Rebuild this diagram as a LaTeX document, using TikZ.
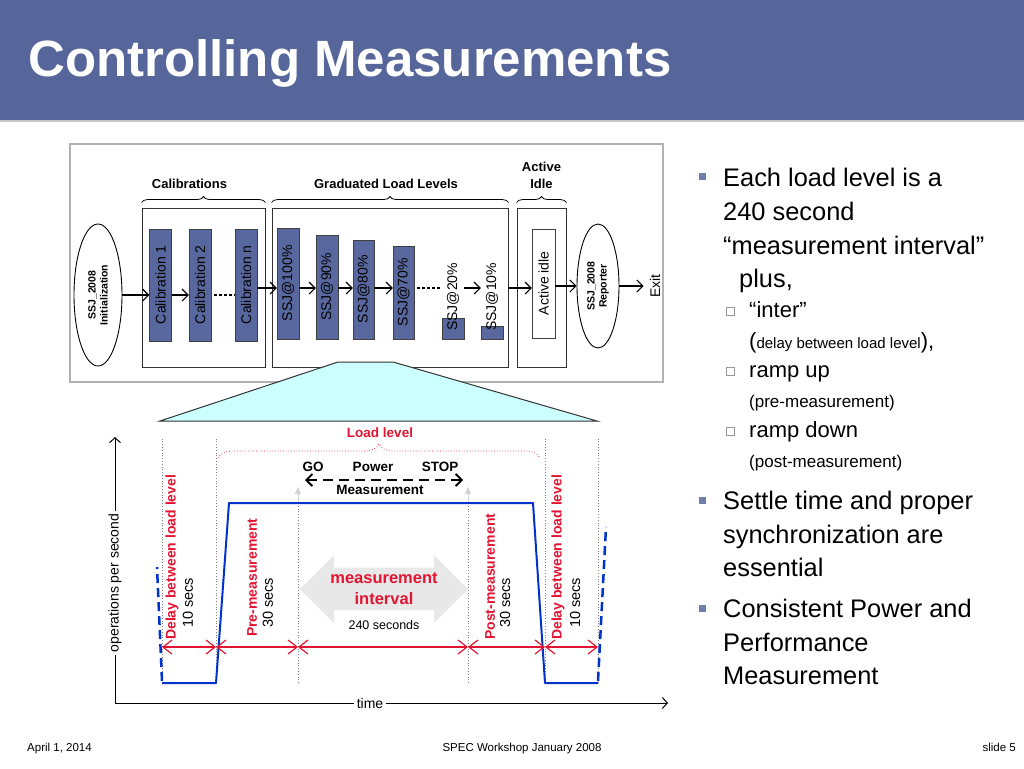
\documentclass[tikz,border=0pt]{standalone}
\usepackage{fontspec}
\setmainfont{Liberation Sans}
\usetikzlibrary{positioning, arrows.meta, decorations.pathreplacing, shapes.geometric, shapes.arrows}

\definecolor{slideblue}{RGB}{86,102,155}
\definecolor{barblue}{RGB}{88,104,158}
\definecolor{bulletblue}{RGB}{112,126,170}
\definecolor{loadred}{RGB}{226,20,50}
\definecolor{traceblue}{RGB}{0,51,204}
\definecolor{fancyan}{RGB}{204,255,255}
\definecolor{framegray}{RGB}{178,178,178}

\newcommand{\txtsize}[2]{\fontsize{#1}{#2}\selectfont}

\begin{document}
\begin{tikzpicture}[%
		x=1pt, y=-1pt,
		flowarrow/.style={
			line width=1.1pt,
			-{Straight Barb[length=6pt,width=12pt]}
		},
		dotline/.style={
			line width=2.5pt,
			dash pattern=on 2.5pt off 2.5pt,
			shorten <=3pt
		},
		ssjbar/.style={
			rectangle,
			rotate=90,
			anchor=west,
			draw=black!75,
			fill=barblue,
			minimum height=22pt,
			inner sep=0pt,
			font=\txtsize{14}{16}
		},
		idlebar/.style={
			ssjbar,
			fill=white,
			minimum height=23pt
		},
		ssjtext/.style={
			rotate=90,
			anchor=west,
			inner sep=0pt,
			font=\txtsize{14}{16}
		},
		groupbox/.style={
			rectangle,
			draw=black!80,
			line width=0.9pt,
			inner sep=0pt
		},
		grouplabel/.style={
			inner sep=0pt,
			align=center,
			font=\bfseries\txtsize{13}{17}
		},
		groupbrace/.style={
			decorate,
			decoration={brace, amplitude=6pt},
			line width=0.8pt
		},
		ssjoval/.style={
			ellipse,
			draw,
			line width=0.9pt,
			rotate=90,
			align=center,
			inner sep=0pt,
			font=\bfseries\txtsize{10.5}{12}
		},
		timeaxis/.style={
			line width=1pt,
			-{Straight Barb[length=5pt,width=11pt]}
		},
		axislabel/.style={
			fill=white,
			inner sep=3pt,
			font=\txtsize{14}{16}
		},
		guide/.style={
			gray,
			dotted,
			line width=0.8pt
		},
		guidetip/.style={
			gray!35,
			line width=0.8pt,
			-{Triangle[length=7pt,width=6pt]}
		},
		trace/.style={
			traceblue,
			line width=2pt,
			line join=round
		},
		nexttrace/.style={
			traceblue,
			line width=2.5pt,
			dash pattern=on 9pt off 5pt
		},
		spanarrow/.style={
			loadred,
			line width=1.2pt,
			{Straight Barb[length=9pt,width=14pt]}-{Straight Barb[length=9pt,width=14pt]}
		},
		redlabel/.style={
			rotate=90,
			anchor=west,
			inner sep=0pt,
			text=loadred,
			font=\bfseries\txtsize{14}{16}
		},
		secslabel/.style={
			rotate=90,
			anchor=west,
			inner sep=0pt,
			font=\txtsize{14.5}{16}
		},
		loadbrace/.style={
			decorate,
			decoration={brace, amplitude=14pt},
			loadred,
			dotted,
			line width=0.7pt
		},
		pmlabel/.style={
			inner sep=0pt,
			font=\bfseries\txtsize{13.5}{16}
		},
		pmarrow/.style={
			line width=1.8pt,
			dash pattern=on 10pt off 6pt,
			{Straight Barb[length=6pt,width=12pt]}-{Straight Barb[length=6pt,width=12pt]}
		},
		bigarrow/.style={
			double arrow,
			fill=gray!18,
			minimum height=168pt,
			minimum width=68pt,
			double arrow head extend=12.5pt,
			inner xsep=2pt,
			inner ysep=5pt,
			align=center,
			text=loadred,
			font=\bfseries\txtsize{16.5}{21}
		},
		mainsq/.style={
			rectangle,
			fill=bulletblue,
			minimum size=7pt,
			inner sep=0pt
		},
		subsq/.style={
			rectangle,
			draw=gray!80,
			line width=0.6pt,
			fill=white,
			minimum size=8pt,
			inner sep=0pt
		},
		bullettext/.style={
			anchor=base west,
			inner sep=0pt,
			font=\txtsize{25.4}{30}
		},
		subtext/.style={
			anchor=base west,
			inner sep=0pt,
			font=\txtsize{22}{26}
		},
		subnote/.style={
			anchor=base west,
			inner sep=0pt,
			font=\txtsize{17}{20}
		},
		footer/.style={
			inner sep=0pt,
			font=\txtsize{11.5}{14}
		}]

		\useasboundingbox (0,0) rectangle (1024,768);

		% HEADER

		\fill[slideblue] (0,0) rectangle (1024,120);
		\draw[gray!45, line width=2pt] (0,121) -- (1024,121);
		\node[anchor=base west, inner sep=0pt, text=white, font=\bfseries\txtsize{51}{60}] (title) at (28,76) {Controlling Measurements};

		% TOP PANEL

		\draw[framegray, line width=1.2pt] (70,144) rectangle (663,382);

		\node[groupbox, minimum width=123pt, minimum height=159pt] (calbox) at (203.5,287.5) {};
		\node[groupbox, minimum width=236pt, minimum height=159pt] (gradbox) at (390,287.5) {};
		\node[groupbox, minimum width=49pt, minimum height=159pt] (idlebox) at (541.5,287.5) {};

		\draw[groupbrace] ([yshift=5pt]calbox.north west) -- ([yshift=5pt]calbox.north east);
		\draw[groupbrace] ([yshift=5pt]gradbox.north west) -- ([yshift=5pt]gradbox.north east);
		\draw[groupbrace] ([yshift=5pt]idlebox.north west) -- ([yshift=5pt]idlebox.north east);

		\node[grouplabel, above=19pt of calbox.north, xshift=-14pt] (callabel) {Calibrations};
		\node[grouplabel, above=19pt of gradbox.north, xshift=-4pt] (gradlabel) {Graduated Load Levels};
		\node[grouplabel, above=19pt of idlebox.north] (idlelabel) {Active\\Idle};

		\node[ssjoval, minimum width=142pt, minimum height=48pt] (init) at (98,295) {SSJ\_2008\\Initialization};

		\node[ssjbar, minimum width=112pt] (cal1) at (160.5,341) {Calibration 1};
		\node[ssjbar, minimum width=112pt] (cal2) at (200,341) {Calibration 2};
		\node[ssjbar, minimum width=112pt] (caln) at (246,341) {Calibration n};

		\coordinate (lane) at (0,288);

		\node[ssjbar, minimum width=111pt] (ssj100) at (288,339) {SSJ@100\%};
		\node[ssjbar, minimum width=104pt] (ssj90) at (327,339) {SSJ@90\%};
		\node[ssjbar, minimum width=99pt, minimum height=21pt] (ssj80) at (363.5,339) {SSJ@80\%};
		\node[ssjbar, minimum width=93pt, minimum height=21pt] (ssj70) at (403.5,339) {SSJ@70\%};
		\node[ssjbar, minimum width=21pt] (ssj20) at (453,339) {};
		\node[ssjbar, minimum width=13pt] (ssj10) at (492,339) {};
		\node[ssjtext] (ssj20-text) at (453,331) {SSJ@20\%};
		\node[ssjtext] (ssj10-text) at (492,331) {SSJ@10\%};

		\node[idlebar, minimum width=109pt] (idle) at (543.5,338) {Active idle};
		\node[ssjoval, minimum width=124pt, minimum height=42pt] (report) at (598,286) {SSJ\_2008\\Reporter};
		\node[ssjtext, anchor=center, inner sep=6pt] (exit) at (655,286) {Exit};

		\draw[flowarrow] (init.south) -- (init.south -| cal1.north);
		\draw[flowarrow] (cal1.south |- init.south) -- (cal2.north |- init.south);
		\draw[dotline] (cal2.south |- init.south) -- (caln.north |- init.south);
		\draw[flowarrow] (caln.south |- lane) -- (ssj100.north |- lane);
		\draw[flowarrow] (ssj100.south |- lane) -- (ssj90.north |- lane);
		\draw[flowarrow] (ssj90.south |- lane) -- (ssj80.north |- lane);
		\draw[flowarrow] (ssj80.south |- lane) -- (ssj70.north |- lane);
		\draw[dotline] (ssj70.south |- lane) -- (ssj20.north |- lane);
		\draw[flowarrow] (ssj20.south |- lane) -- (ssj10.north |- lane);
		\draw[flowarrow] (gradbox.east |- lane) -- (idle.north |- lane);
		\draw[flowarrow] (idle.south |- report.north) -- (report.north);
		\draw[flowarrow] (report.south) -- (exit.north);

		% ZOOM FAN

		\filldraw[fill=fancyan, draw=black!80, line width=1pt] (338,362) -- (393,362) -- (597,421) -- (160,421) -- cycle;

		% LOAD LEVEL CHART

		\coordinate (origin) at (115,703);
		\coordinate (ytop) at (115,437);
		\coordinate (xend) at (668,703);

		\coordinate (t0) at (162,683);
		\coordinate (t1) at (216,683);
		\coordinate (t2) at (298,683);
		\coordinate (t3) at (468,683);
		\coordinate (t4) at (545,683);
		\coordinate (t5) at (598,683);
		\coordinate (dimrow) at (0,647);

		\node[bigarrow] (interval) at (384,589) {measurement\\interval};
		\node[inner sep=0pt, font=\txtsize{12.5}{14}] (secs240) at (384,625) {240 seconds};

		\draw[guide] (t0) -- ++(0,-246);
		\draw[guide] (t1) -- ++(0,-246);
		\draw[guide] (t2) -- ++(0,-196);
		\draw[guide] (t3) -- ++(0,-196);
		\draw[guide] (t4) -- ++(0,-246);
		\draw[guide] (t5) -- ++(0,-246);
		\draw[guidetip] ([yshift=180pt]t2) -- ++(0,-16);
		\draw[guidetip] ([yshift=180pt]t3) -- ++(0,-16);

		\draw[timeaxis] (origin) -- (ytop);
		\draw[timeaxis] (origin) -- (xend);
		\node[axislabel, rotate=90] (opslabel) at (115,583) {operations per second};
		\node[axislabel] (timelabel) at (370,703) {time};

		\coordinate (rampup) at (229,503);
		\coordinate (rampdown) at (533,503);
		\coordinate (prevlvl) at (157,567);
		\coordinate (nextlvl) at (606,527);
		\draw[trace] (t0) -- (t1) -- (rampup) -- (rampdown) -- (t4) -- (t5);
		\draw[nexttrace] ([yshift=2pt]t0) -- (prevlvl);
		\draw[nexttrace] ([yshift=2pt]t5) -- (nextlvl);

		\draw[spanarrow] (t0 |- dimrow) -- (t1 |- dimrow);
		\draw[spanarrow] (t1 |- dimrow) -- (t2 |- dimrow);
		\draw[spanarrow] (t2 |- dimrow) -- (t3 |- dimrow);
		\draw[spanarrow] (t3 |- dimrow) -- (t4 |- dimrow);
		\draw[spanarrow] (t4 |- dimrow) -- (t5 |- dimrow);

		\node[redlabel] (delay-L) at (172,640) {Delay between load level};
		\node[secslabel] (secs-L) at (188,628) {10 secs};
		\node[redlabel] (pre) at (252,637) {Pre-measurement};
		\node[secslabel] (secs-pre) at (268,628) {30 secs};
		\node[redlabel] (post) at (490,640) {Post-measurement};
		\node[secslabel] (secs-post) at (505,628) {30 secs};
		\node[redlabel] (delay-R) at (558,640) {Delay between load level};
		\node[secslabel] (secs-R) at (575,628) {10 secs};

		\coordinate (loadA) at (218,458);
		\coordinate (loadB) at (540,458);
		\draw[loadbrace] (loadA) -- (loadB);
		\node[inner sep=0pt, text=loadred, font=\bfseries\txtsize{13.5}{16}] (loadlabel) at (380,433) {Load level};

		\coordinate (goA) at (305,480);
		\coordinate (goB) at (463,480);
		\draw[pmarrow] (goA) -- (goB);
		\node[pmlabel] (go) at (313,467) {GO};
		\node[pmlabel] (power) at (373,467) {Power};
		\node[pmlabel] (stop) at (440,467) {STOP};
		\node[pmlabel] (pmeas) at (380,490) {Measurement};

		% BULLETS

		\node[mainsq] (sq1) at (702,176) {};
		\node[bullettext] (each-1) at (723,186) {Each load level is a};
		\node[bullettext] (each-2) at (723,220) {240 second};
		\node[bullettext] (each-3) at (723,254) {“measurement interval”};
		\node[bullettext] (each-4) at (739,287) {plus,};

		\node[subsq] (sq-inter) at (730,311) {};
		\node[subtext] (inter) at (749,317) {“inter”};
		\node[subnote] (inter-note) at (749,348) {{\txtsize{22}{26}(}{\txtsize{15}{18}delay between load level}{\txtsize{22}{26}),}};
		\node[subsq] (sq-up) at (730,371) {};
		\node[subtext] (rampup-text) at (749,377) {ramp up};
		\node[subnote] (up-note) at (749,407) {(pre-measurement)};
		\node[subsq] (sq-down) at (730,431) {};
		\node[subtext] (rampdown-text) at (749,437) {ramp down};
		\node[subnote] (down-note) at (749,467) {(post-measurement)};

		\node[mainsq] (sq2) at (702,500) {};
		\node[bullettext] (settle-1) at (723,509) {Settle time and proper};
		\node[bullettext] (settle-2) at (723,543) {synchronization are};
		\node[bullettext] (settle-3) at (723,576) {essential};

		\node[mainsq] (sq3) at (702,608) {};
		\node[bullettext] (power-1) at (723,617) {Consistent Power and};
		\node[bullettext] (power-2) at (723,651) {Performance};
		\node[bullettext] (power-3) at (723,684) {Measurement};

		% FOOTER

		\node[footer, anchor=base west] (date) at (27,751) {April 1, 2014};
		\node[footer, anchor=base] (event) at (522,751) {SPEC Workshop January 2008};
		\node[footer, anchor=base east] (slideno) at (1016,751) {slide 5};
\end{tikzpicture}
\end{document}
